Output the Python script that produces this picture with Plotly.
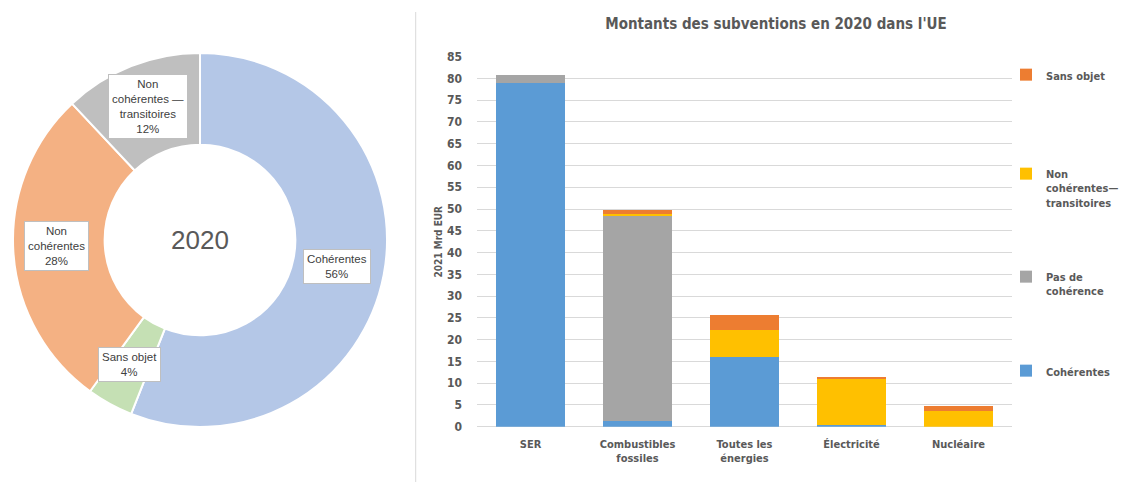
import plotly.graph_objects as go

# ---- Donut data ----
pie_labels = ["Cohérentes", "Sans objet", "Non cohérentes", "Non cohérentes — transitoires"]
pie_values = [56, 4, 28, 12]
pie_colors = ["#B4C7E7", "#C5E0B4", "#F4B183", "#BFBFBF"]
pie_texts = ["Cohérentes<br>56%", "Sans objet<br>4%", "Non<br>cohérentes<br>28%", "Non<br>cohérentes —<br>transitoires<br>12%"]

# ---- Bar data ----
categories = ["SER", "Combustibles<br>fossiles", "Toutes les<br>énergies", "Électricité", "Nucléaire"]
coherentes = [79.0, 1.3, 16.1, 0.5, 0.0]
pas_coherence = [1.7, 47.2, 0.0, 0.0, 0.0]
non_coh_trans = [0.0, 0.4, 6.0, 10.4, 3.7]
sans_objet = [0.0, 0.9, 3.5, 0.6, 1.0]
y_ticks = list(range(0, 90, 5))

W, H = 1123, 482
FONT_B = "DejaVu Sans Condensed, Liberation Sans Narrow, Arial Narrow, sans-serif"
GREY = "#595959"

fig = go.Figure()

fig.add_trace(go.Pie(
    labels=pie_labels, values=pie_values, hole=0.51, sort=False,
    direction="clockwise", rotation=0,
    marker=dict(colors=pie_colors, line=dict(color="white", width=2)),
    textinfo="none", hoverinfo="label+percent", showlegend=False,
    domain=dict(x=[13 / W, 387 / W], y=[(H - 427) / H, (H - 53) / H]),
))

series = [
    ("Cohérentes", coherentes, "#5B9BD5", "legend4", 371),
    ("Pas de<br>cohérence", pas_coherence, "#A5A5A5", "legend3", 277),
    ("Non<br>cohérentes—<br>transitoires", non_coh_trans, "#FFC000", "legend2", 174),
    ("Sans objet", sans_objet, "#ED7D31", "legend", 75),
]
for name, vals, col, lg, _ in series:
    fig.add_trace(go.Bar(
        x=categories, y=vals, name=name, marker=dict(color=col, line=dict(width=0)),
        xaxis="x", yaxis="y", legend=lg,
    ))

leg_common = dict(
    font=dict(family=FONT_B, size=11, color=GREY, weight="bold"),
    bgcolor="rgba(0,0,0,0)", itemwidth=30, xanchor="left", yanchor="top",
    itemclick=False, itemdoubleclick=False, valign="top",
)
layout_legends = {}
for name, vals, col, lg, ypx in series:
    layout_legends[lg] = dict(x=1006 / W, y=(H - ypx + 14) / H, **leg_common)

fig.update_layout(
    width=W, height=H,
    margin=dict(l=0, r=0, t=0, b=0, autoexpand=False),
    paper_bgcolor="white", plot_bgcolor="white",
    barmode="stack", bargap=0.355,
    font=dict(family="Liberation Sans, Arial", color=GREY),
    xaxis=dict(domain=[477 / W, 1012 / W], showgrid=False, showline=False,
               tickfont=dict(family=FONT_B, size=11, color=GREY, weight="bold"),
               anchor="y", ticks="", automargin=False, ticklabelstandoff=9),
    yaxis=dict(domain=[(H - 426.7) / H, (H - 56.7) / H], range=[0, 85],
               tickvals=y_ticks, showgrid=True, gridcolor="#D9D9D9", gridwidth=1,
               zeroline=True, zerolinecolor="#D9D9D9", zerolinewidth=1,
               tickfont=dict(family=FONT_B, size=12, color=GREY, weight="bold"),
               ticklabelstandoff=14, anchor="x", automargin=False,
               title=dict(text="2021 Mrd EUR", standoff=2,
                          font=dict(family=FONT_B, size=10, color=GREY, weight="bold"))),
    title=dict(text="Montants des subventions en 2020 dans l'UE",
               x=776 / W, xanchor="center", y=(H - 24) / H, yanchor="middle",
               font=dict(family=FONT_B, size=15, color=GREY, weight="bold")),
    **layout_legends,
)

# separator line
fig.add_shape(type="line", xref="paper", yref="paper",
              x0=415.7 / W, x1=415.7 / W, y0=0, y1=(H - 12) / H,
              line=dict(color="#D9D9D9", width=1))

# donut center text
fig.add_annotation(text="2020", x=200 / W, y=(H - 240) / H, xref="paper", yref="paper",
                   xanchor="center", yanchor="middle",
                   showarrow=False, font=dict(family="Liberation Sans, Arial", size=26, color=GREY))

# donut labels
label_pos = [(337, 266), (129, 364), (56, 246), (148, 106)]
for txt, (px, py) in zip(pie_texts, label_pos):
    fig.add_annotation(text=txt, x=px / W, y=(H - py) / H, xref="paper", yref="paper",
                       xanchor="center", yanchor="middle",
                       showarrow=False, bgcolor="white", bordercolor="#BFBFBF", borderwidth=1,
                       borderpad=3,
                       font=dict(family="Liberation Sans, Arial", size=11.5, color="#404040"))

fig.write_html("out.html", config={"displayModeBar": False},
               post_script="document.body.style.margin='0px';")
